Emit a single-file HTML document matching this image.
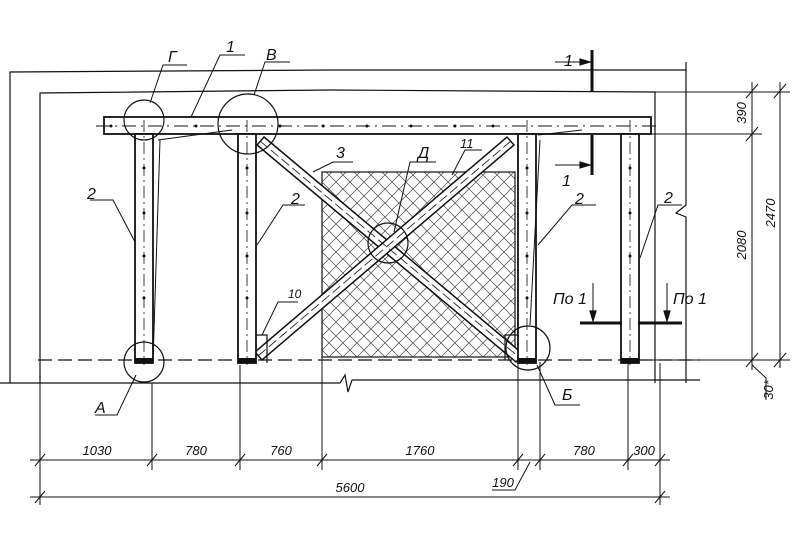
<!DOCTYPE html>
<html><head><meta charset="utf-8"><style>
html,body{margin:0;padding:0;background:#fff}
svg{display:block}
text{font-family:"Liberation Sans",sans-serif;font-style:italic;fill:#111}
</style></head><body>
<svg width="800" height="540" viewBox="0 0 800 540" xmlns="http://www.w3.org/2000/svg">
<defs>
<pattern id="h" width="14" height="14" patternUnits="userSpaceOnUse">
<path d="M0 0L14 14M14 0L0 14" stroke="#444" stroke-width="0.7"/>
</pattern>
</defs>
<g stroke="#111" fill="none" stroke-width="1.2">
<path d="M10 383V72L330 70L686 70"/>
<path d="M40 383V93L330 90L655 92V383"/>
<path d="M0 383H340L345 375L348 392L352 380H700"/>
<path d="M686 62V205L676 213L686 217V383"/>
<path d="M38 360H700" stroke-dasharray="14 6"/>
<rect x="322" y="172" width="193" height="185" fill="url(#h)"/>
<rect x="104" y="117" width="547" height="17" stroke-width="1.8" fill="#fff"/>
<path d="M96 126H660" stroke-dasharray="14 5 2 5" stroke-width="0.9"/>
<g fill="#fff" stroke-width="1.5">
<polygon points="264,137 523,354 516,362 257,145"/>
<polygon points="507,137 514,145 262,360 255,352"/>
</g>
<path d="M260 141L520 358M511 141L258 356" stroke-dasharray="10 4" stroke-width="0.8"/>
<g fill="#fff" stroke-width="1.8">
<rect x="135" y="134" width="18" height="229"/>
<rect x="238" y="134" width="18" height="229"/>
<rect x="518" y="134" width="18" height="229"/>
<rect x="621" y="134" width="18" height="229"/>
</g>
<path d="M144 120V365M247 120V365M527 120V365M630 120V365" stroke-dasharray="12 4 2 4" stroke-width="0.8"/>
<g fill="#111" stroke="none">
<circle cx="144" cy="168" r="1.5"/><circle cx="144" cy="213" r="1.5"/><circle cx="144" cy="256" r="1.5"/><circle cx="144" cy="298" r="1.5"/>
<circle cx="247" cy="168" r="1.5"/><circle cx="247" cy="213" r="1.5"/><circle cx="247" cy="256" r="1.5"/><circle cx="247" cy="298" r="1.5"/>
<circle cx="527" cy="168" r="1.5"/><circle cx="527" cy="213" r="1.5"/><circle cx="527" cy="256" r="1.5"/><circle cx="527" cy="298" r="1.5"/>
<circle cx="630" cy="168" r="1.5"/><circle cx="630" cy="213" r="1.5"/><circle cx="630" cy="256" r="1.5"/>
<circle cx="111" cy="126" r="1.5"/><circle cx="196" cy="126" r="1.5"/><circle cx="280" cy="126" r="1.5"/><circle cx="323" cy="126" r="1.5"/><circle cx="367" cy="126" r="1.5"/><circle cx="411" cy="126" r="1.5"/><circle cx="455" cy="126" r="1.5"/><circle cx="493" cy="126" r="1.5"/>
<rect x="135" y="358" width="18" height="5"/><rect x="238" y="358" width="18" height="5"/><rect x="518" y="358" width="18" height="5"/><rect x="621" y="358" width="18" height="5"/>
</g>
<path d="M256 335H267V363" /><path d="M518 335H505V360"/>
<circle cx="144" cy="120" r="20"/><circle cx="248" cy="124" r="30"/><circle cx="388" cy="243" r="20"/>
<circle cx="144" cy="362" r="20"/><circle cx="528" cy="348" r="22"/>
<g stroke-width="1">
<path d="M150 103L163 65H187M191 117L220 55H245M254 95L265 62H290M135 242L113 200H90M158 140L232 130M153 362L160 140"/>
<path d="M257 245L283 205H305M313 172L333 162H353M394 232L410 162H436M452 175L465 150H482M538 245L572 205H596M640 258L658 205H682M262 335L278 302H298"/>
<path d="M136 375L117 415H95M537 365L555 405H580"/>
<path d="M538 135L582 130M530 325L540 140"/>
</g>
<path d="M592 50V92M592 135V175" stroke-width="3"/>
<path d="M555 62H588M555 165H588" stroke-width="1"/>
<path d="M590 62L580 59V65Z M590 165L580 162V168Z" fill="#111"/>
<path d="M580 323H622M638 323H682" stroke-width="3"/>
<path d="M593 283V318M667 283V318" stroke-width="1"/>
<path d="M593 321L590 311H596Z M667 321L664 311H670Z" fill="#111"/>
<g stroke-width="1">
<path d="M655 92H790M640 134H762M640 360H790"/>
<path d="M752 82V370M780 82V368"/>
<path d="M746 98L758 84M746 141L758 127M746 367L758 353M774 98L786 84M774 367L786 353"/>
<path d="M752 365L766 378V400"/>
</g>
<g stroke-width="1">
<path d="M40 383V505M152 383V470M240 365V470M322 357V470M518 362V470M540 362V470M628 363V470M660 363V505"/>
<path d="M30 460H670M30 497H670"/>
<path d="M35 466L45 454M147 466L157 454M235 466L245 454M317 466L327 454M513 466L523 454M535 466L545 454M623 466L633 454M655 466L665 454M35 503L45 491M655 503L665 491"/>
<path d="M530 462L515 490H492"/>
</g>
</g>
<g font-size="16">
<text x="168" y="62">Г</text><text x="226" y="52">1</text><text x="266" y="60">В</text>
<text x="336" y="158">3</text><text x="418" y="158">Д</text><text x="460" y="148" font-size="13">11</text>
<text x="87" y="199">2</text><text x="291" y="204">2</text><text x="575" y="204">2</text><text x="664" y="203">2</text>
<text x="288" y="298" font-size="12">10</text>
<text x="564" y="66">1</text><text x="562" y="186">1</text>
<text x="553" y="304">По 1</text><text x="673" y="304">По 1</text>
<text x="95" y="413">А</text><text x="562" y="400">Б</text>
</g>
<g font-size="13" text-anchor="middle">
<text x="97" y="455">1030</text><text x="196" y="455">780</text><text x="281" y="455">760</text><text x="420" y="455">1760</text>
<text x="584" y="455">780</text><text x="644" y="455">300</text><text x="503" y="487">190</text><text x="350" y="492">5600</text>
<text transform="translate(746 113) rotate(-90)">390</text>
<text transform="translate(746 245) rotate(-90)">2080</text>
<text transform="translate(775 213) rotate(-90)">2470</text>
<text transform="translate(773 390) rotate(-90)">30*</text>
</g>
</svg>
</body></html>
